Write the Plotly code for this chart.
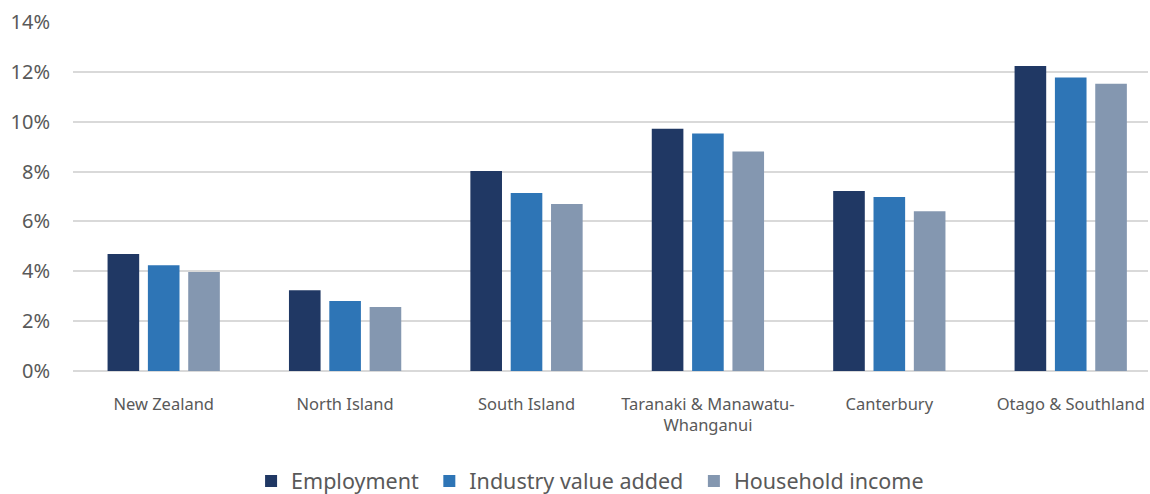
import plotly.graph_objects as go

categories = ["New Zealand", "North Island", "South Island",
              "Taranaki & Manawatu-<br>Whanganui", "Canterbury", "Otago & Southland"]
employment = [4.69, 3.24, 8.02, 9.72, 7.22, 12.23]
industry_value_added = [4.24, 2.81, 7.14, 9.53, 6.98, 11.77]
household_income = [3.97, 2.57, 6.70, 8.81, 6.41, 11.52]
tick_vals = [0, 2, 4, 6, 8, 10, 12, 14]
tick_text = ["0%", "2%", "4%", "6%", "8%", "10%", "12%", "14%"]

NB = "\u00a0"
series = [
    ("Employment" + NB, employment, "#203864"),
    ("Industry value added" + NB, industry_value_added, "#2E75B6"),
    ("Household income", household_income, "#8497B0"),
]

fig = go.Figure()
for name, vals, color in series:
    fig.add_trace(go.Bar(x=categories, y=vals, name=name,
                         marker=dict(color=color, line=dict(width=0))))

fig.update_layout(
    width=1150, height=494,
    margin=dict(l=73, r=2, t=22, b=123, autoexpand=False),
    paper_bgcolor="white", plot_bgcolor="white",
    barmode="group", bargap=0.333, bargroupgap=0.216,
    font=dict(family="Noto Sans", color="#595959"),
    showlegend=True,
    legend=dict(orientation="h", x=0.481, xanchor="center", y=-0.315, yanchor="middle",
                font=dict(size=21.5, color="#595959"), itemwidth=30,
                traceorder="normal"),
    xaxis=dict(tickfont=dict(size=16.5, color="#595959"), showgrid=False,
               range=[-0.5, 5.426],
               showline=False, ticks="", ticklabelstandoff=21, automargin=False),
    yaxis=dict(range=[0, 14], tickvals=tick_vals, ticktext=tick_text,
               tickfont=dict(size=20, color="#595959"),
               showgrid=True, gridcolor="#D9D9D9", gridwidth=1.5,
               zeroline=True, zerolinecolor="#D9D9D9", zerolinewidth=1.5,
               showline=False, ticks="", ticklabelstandoff=22, automargin=False),
)

fig.write_html("out.html", config={"displayModeBar": False},
               post_script="document.body.style.margin='0px';document.body.style.overflow='hidden';")
